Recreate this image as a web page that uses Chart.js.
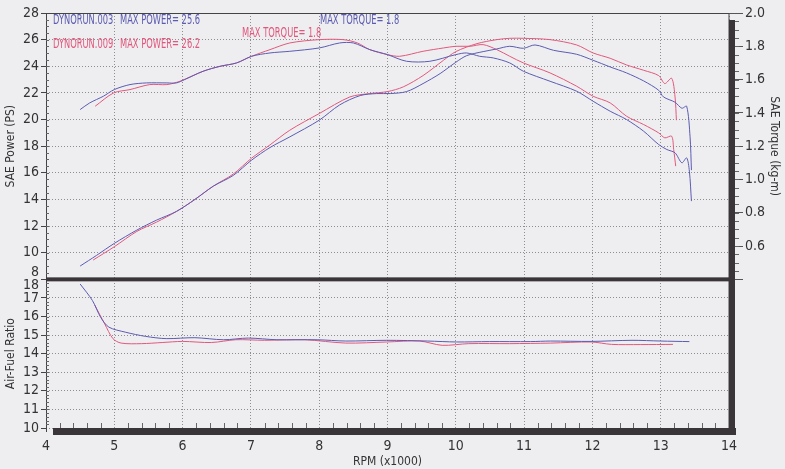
<!DOCTYPE html>
<html>
<head>
<meta charset="utf-8">
<script src="https://cdn.jsdelivr.net/npm/chart.js@4.4.0/dist/chart.umd.min.js"></script>
<style>
html, body { margin: 0; padding: 0; background: #eeeef1; }
</style>
</head>
<body>
<canvas id="dyno" width="785" height="469"></canvas>
<script>
// DYNORUN.003 (blue)
var rpmPower003 = [4.50, 4.74, 5.00, 5.33, 5.62, 5.91, 6.18, 6.45, 6.74, 7.01, 7.28, 7.57, 8.00, 8.30, 8.60, 8.84, 9.04, 9.28, 9.52, 9.77, 10.00, 10.16, 10.40, 10.60, 10.79, 10.99, 11.16, 11.43, 11.77, 12.01, 12.26, 12.50, 12.75, 12.97, 13.04, 13.21, 13.31, 13.38, 13.43, 13.45];
var power003 = [9.0, 9.8, 10.7, 11.7, 12.45, 13.1, 14.0, 15.0, 15.8, 16.95, 17.9, 18.7, 19.95, 21.1, 21.8, 21.95, 21.95, 22.1, 22.7, 23.45, 24.3, 24.8, 25.1, 25.3, 25.5, 25.35, 25.6, 25.2, 24.9, 24.45, 23.95, 23.5, 22.9, 22.2, 21.7, 21.3, 20.85, 21.0, 18.7, 16.2];
var rpmTorque003 = [4.50, 4.64, 4.84, 5.00, 5.23, 5.47, 5.77, 5.91, 6.03, 6.30, 6.55, 6.79, 7.01, 7.28, 7.57, 8.00, 8.30, 8.50, 8.74, 9.00, 9.28, 9.62, 10.00, 10.16, 10.35, 10.55, 10.79, 10.99, 11.38, 11.77, 12.01, 12.26, 12.50, 12.75, 12.97, 13.09, 13.21, 13.31, 13.38, 13.42, 13.45];
var torque003 = [1.42, 1.46, 1.50, 1.54, 1.57, 1.58, 1.58, 1.58, 1.60, 1.65, 1.68, 1.70, 1.74, 1.76, 1.77, 1.79, 1.82, 1.82, 1.78, 1.75, 1.71, 1.71, 1.75, 1.76, 1.74, 1.73, 1.70, 1.65, 1.59, 1.53, 1.47, 1.41, 1.36, 1.29, 1.21, 1.18, 1.16, 1.10, 1.13, 1.05, 0.87];
var rpmAfr003 = [4.50, 4.68, 4.80, 4.92, 5.16, 5.46, 5.76, 6.18, 6.60, 6.96, 7.38, 7.97, 8.39, 8.99, 9.59, 10.01, 10.49, 11.09, 11.39, 11.98, 12.58, 13.00, 13.42];
var afr003 = [17.75, 16.86, 15.96, 15.43, 15.16, 14.93, 14.81, 14.86, 14.75, 14.84, 14.75, 14.75, 14.68, 14.72, 14.68, 14.63, 14.65, 14.65, 14.68, 14.66, 14.72, 14.68, 14.65];

// DYNORUN.009 (red)
var rpmPower009 = [4.69, 5.00, 5.33, 5.62, 5.91, 6.18, 6.45, 6.74, 7.01, 7.28, 7.57, 8.00, 8.45, 8.74, 9.00, 9.23, 9.52, 9.82, 10.00, 10.31, 10.60, 10.79, 10.99, 11.38, 11.77, 12.01, 12.26, 12.50, 12.75, 12.97, 13.06, 13.16, 13.21, 13.23];
var power009 = [9.45, 10.45, 11.6, 12.3, 13.1, 14.0, 15.0, 15.9, 17.1, 18.1, 19.2, 20.45, 21.7, 21.95, 22.1, 22.45, 23.3, 24.45, 25.1, 25.7, 26.0, 26.1, 26.1, 26.0, 25.6, 25.0, 24.6, 24.1, 23.7, 23.3, 22.7, 23.1, 21.7, 19.95];
var rpmTorque009 = [4.72, 4.99, 5.23, 5.52, 5.77, 5.96, 6.30, 6.55, 6.79, 7.01, 7.28, 7.57, 8.00, 8.35, 8.56, 8.74, 9.00, 9.18, 9.52, 9.82, 10.00, 10.21, 10.40, 10.60, 10.79, 10.99, 11.38, 11.77, 12.01, 12.26, 12.50, 12.75, 12.97, 13.06, 13.16, 13.19, 13.22];
var torque009 = [1.44, 1.52, 1.54, 1.57, 1.57, 1.59, 1.65, 1.68, 1.70, 1.74, 1.78, 1.82, 1.84, 1.84, 1.82, 1.78, 1.75, 1.74, 1.77, 1.79, 1.80, 1.80, 1.81, 1.78, 1.74, 1.70, 1.64, 1.56, 1.50, 1.46, 1.38, 1.33, 1.28, 1.25, 1.26, 1.18, 1.08];
var rpmAfr009 = [4.71, 4.86, 4.98, 5.10, 5.40, 5.70, 6.00, 6.42, 6.78, 7.20, 7.79, 8.39, 8.99, 9.47, 9.80, 10.19, 10.79, 11.39, 11.98, 12.28, 12.70, 13.18];
var afr009 = [16.64, 15.60, 14.81, 14.57, 14.54, 14.60, 14.66, 14.60, 14.75, 14.72, 14.75, 14.57, 14.63, 14.68, 14.45, 14.54, 14.54, 14.57, 14.63, 14.50, 14.49, 14.50];

var BLUE = '#5b5bb2';
var RED = '#e2587c';
var FONT = "'DejaVu Sans Condensed', 'DejaVu Sans', sans-serif";

function pts(xs, ys) {
    return xs.map(function(x, i) { return { x: x, y: ys[i] }; });
}

function run(data, color, axis) {
    return {
        data: data,
        yAxisID: axis,
        borderColor: color,
        borderWidth: 1,
        pointRadius: 0,
        fill: false,
        tension: 0.3
    };
}

// narrow text, like the printer font
function narrowText(c, txt, x, y, align) {
    c.save();
    c.translate(x, y);
    c.scale(0.66, 1);
    c.textAlign = align || 'left';
    c.fillText(txt, 0, 0);
    c.restore();
}

var dotted = { color: '#8e8e92', lineWidth: 1, tickLength: 5, tickColor: '#444', tickBorderDash: [] };
var tickFont = { family: FONT, size: 14 };

// frame, separator bar, shadow bars, minor ticks and the run labels
var dynoFrame = {
    id: 'dynoFrame',
    afterDraw: function(chart) {
        var c = chart.ctx, a = chart.chartArea, s = chart.scales;
        var sep = s.power.bottom;
        c.save();
        c.strokeStyle = '#444';
        c.lineWidth = 1;
        c.beginPath();
        c.moveTo(a.left + 0.5, a.top);
        c.lineTo(a.left + 0.5, a.bottom + 4);
        c.moveTo(a.left, a.top + 0.5);
        c.lineTo(a.right, a.top + 0.5);
        c.lineTo(a.right, a.bottom);
        c.stroke();
        // minor ticks
        c.strokeStyle = '#666';
        c.beginPath();
        for (var r = 4.2; r < 14; r += 0.2) {
            if (Math.abs(r - Math.round(r)) < 0.01) continue;
            var px = Math.round(s.x.getPixelForValue(r)) + 0.5;
            c.moveTo(px, a.bottom - 5);
            c.lineTo(px, a.bottom);
        }
        for (var p = 8.5; p < 28; p += 0.5) {
            var py = Math.round(s.power.getPixelForValue(p)) + 0.5;
            c.moveTo(a.left, py);
            c.lineTo(a.left + 3, py);
        }
        for (var f = 10.2; f < 18; f += 0.2) {
            var fy = Math.round(s.afr.getPixelForValue(f)) + 0.5;
            c.moveTo(a.left, fy);
            c.lineTo(a.left + 3, fy);
        }
        for (var t = 0.45; t < 2.0; t += 0.05) {
            var ty = Math.round(s.torque.getPixelForValue(t)) + 0.5;
            c.moveTo(a.right + 6, ty);
            c.lineTo(a.right + 10, ty);
        }
        c.stroke();
        // separator and shadow
        c.fillStyle = '#3a3538';
        c.fillRect(a.left, sep - 2, a.right - a.left, 4);
        c.fillRect(a.right, a.top + 7, 6, a.bottom - a.top);
        c.fillRect(a.left + 7, a.bottom, a.right - a.left, 7);
        // the two labels squeezed at the separator
        c.font = '14px ' + FONT;
        c.textBaseline = 'middle';
        c.fillStyle = '#333';
        c.textAlign = 'right';
        c.fillText('8', a.left - 7, sep - 7);
        c.fillText('18', a.left - 7, sep + 6);
        // run labels
        c.font = '14px ' + FONT;
        c.fillStyle = BLUE;
        narrowText(c, 'DYNORUN.003', a.left + 7, a.top + 7);
        narrowText(c, 'MAX POWER= 25.6', a.left + 74, a.top + 7);
        narrowText(c, 'MAX TORQUE= 1.8', a.left + 274, a.top + 7);
        c.fillStyle = RED;
        narrowText(c, 'DYNORUN.009', a.left + 7, a.top + 31);
        narrowText(c, 'MAX POWER= 26.2', a.left + 74, a.top + 31);
        narrowText(c, 'MAX TORQUE= 1.8', a.left + 196, a.top + 20);
        c.restore();
    }
};

var chart = new Chart(document.getElementById('dyno'), {
    type: 'line',
    data: {
        datasets: [
            run(pts(rpmPower003, power003), BLUE, 'power'),
            run(pts(rpmTorque003, torque003), BLUE, 'torque'),
            run(pts(rpmAfr003, afr003), BLUE, 'afr'),
            run(pts(rpmPower009, power009), RED, 'power'),
            run(pts(rpmTorque009, torque009), RED, 'torque'),
            run(pts(rpmAfr009, afr009), RED, 'afr')
        ]
    },
    options: {
        responsive: false,
        animation: false,
        layout: { padding: { top: 13, left: 0, right: 0, bottom: 0 } },
        plugins: { legend: { display: false }, tooltip: { enabled: false } },
        scales: {
            x: {
                type: 'linear', min: 4, max: 14,
                ticks: { stepSize: 1, autoSkip: false, color: '#333', font: tickFont, padding: 10 },
                grid: { color: '#8e8e92', drawTicks: false },
                border: { display: false, dash: [1, 2] },
                title: { display: true, text: 'RPM (x1000)', color: '#333', font: { family: FONT, size: 12 }, padding: 0 },
                afterFit: function(s) { s.height = 41; }
            },
            afr: {
                type: 'linear', position: 'left', stack: 'left', stackWeight: 149,
                min: 10, max: 18,
                ticks: {
                    stepSize: 1, autoSkip: false, color: '#333', font: tickFont, padding: 2,
                    callback: function(v) { return v === 18 ? '' : v; }
                },
                grid: dotted,
                border: { display: false, dash: [1, 2] },
                title: { display: true, text: 'Air-Fuel Ratio', color: '#333', font: { family: FONT, size: 12 }, padding: 4 },
                afterFit: function(s) { s.width = 46; }
            },
            power: {
                type: 'linear', position: 'left', stack: 'left', stackWeight: 267,
                min: 8, max: 28,
                ticks: {
                    stepSize: 2, autoSkip: false, color: '#333', font: tickFont, padding: 2,
                    callback: function(v) { return v === 8 ? '' : v; }
                },
                grid: dotted,
                border: { display: false, dash: [1, 2] },
                title: { display: true, text: 'SAE Power (PS)', color: '#333', font: { family: FONT, size: 12 }, padding: 4 },
                afterFit: function(s) { s.width = 46; }
            },
            torque: {
                type: 'linear', position: 'right', stack: 'right', stackWeight: 267,
                min: 0.4, max: 2.0,
                ticks: {
                    stepSize: 0.2, autoSkip: false, color: '#333', font: tickFont, padding: 2,
                    callback: function(v) { return v < 0.5 ? '' : v.toFixed(1); }
                },
                grid: { drawOnChartArea: false, tickLength: 14, tickColor: '#555', tickBorderDash: [] },
                border: { display: false },
                title: { display: true, text: 'SAE Torque (kg-m)', color: '#333', font: { family: FONT, size: 12 }, padding: 4 },
                afterFit: function(s) { s.width = 56; }
            },
            afrRight: {
                type: 'linear', position: 'right', stack: 'right', stackWeight: 149,
                min: 10, max: 18,
                ticks: { display: false },
                grid: { display: false },
                border: { display: false },
                afterFit: function(s) { s.width = 56; }
            }
        }
    },
    plugins: [dynoFrame]
});
</script>
</body>
</html>
